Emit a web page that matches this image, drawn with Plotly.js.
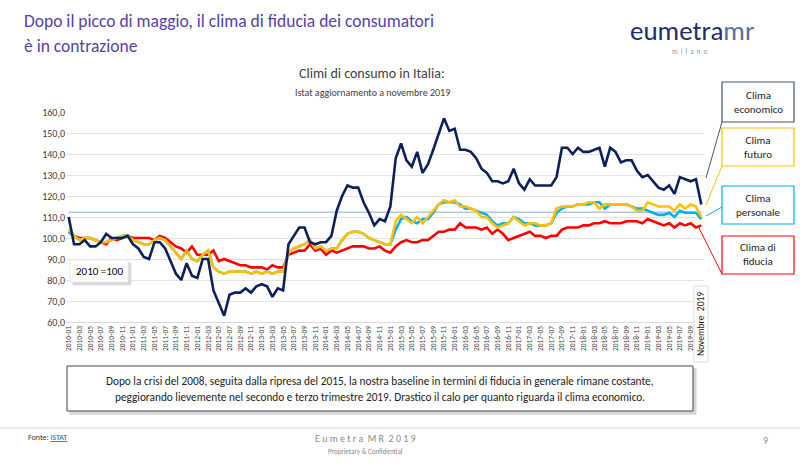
<!DOCTYPE html>
<html><head><meta charset="utf-8">
<script src="https://cdn.plot.ly/plotly-3.0.1.min.js"></script>
<style>body{margin:0;background:#fff}#c{width:800px;height:464px}</style></head>
<body><div id="c"></div>
<script>
const years=[2010,2011,2012,2013,2014,2015,2016,2017,2018,2019];
const months=["01","02","03","04","05","06","07","08","09","10","11","12"];
const economico=[
110,97,97,99,96,96,98,102,100,100,100,101,
97,95,91,90,98,98,95,89,83,80,88,82,
81,90,90,75,69,63,73,74,74,76,74,77,
78,77,72,76,75,97,101,105,105,98,97,98,
98,101,113,120,125,124,124,117,112,106,109,108,
115,138,145,137,134,141,131,135,142,150,157,151,
152,142,142,141,138,133,131,127,127,126,127,133,
126,123,128,125,125,125,125,129,143,143,140,143,
141,141,142,143,134,143,141,136,137,137,132,129,
130,127,124,123,125,121,129,128,127,128,116];
const futuro=[
104,101,99,100,100,99,98,98,99,100,101,101,
99,98,97,97,99,100,99,96,93,90,94,90,
89,92,94,86,84,83,84,84,84,84,83,84,
83,84,83,84,84,93,95,96,97,99,95,96,
94,95,95,99,102,103,103,102,100,99,98,97,
97,108,111,109,107,110,107,110,113,116,118,117,
118,115,115,114,113,110,110,107,105,106,107,110,
108,106,107,107,106,106,107,114,115,115,115,116,
116,117,117,114,116,116,116,116,116,115,113,113,
117,116,115,115,115,113,116,114,116,115,110];
const personale=[
103,101,99,100,100,99,98,98,99,100,101,101,
99,98,97,97,99,100,99,96,93,90,94,90,
89,92,94,86,84,83,84,84,84,84,83,84,
83,84,83,84,84,93,95,96,97,99,95,96,
94,95,95,99,102,103,103,102,100,99,98,97,
97,104,109,110,108,107,109,109,112,116,117,117,
117,116,114,114,113,112,111,108,106,107,107,110,
109,107,107,106,106,106,107,112,114,115,115,116,
116,116,117,117,114,116,116,116,116,115,114,114,
113,112,111,111,112,110,113,112,112,112,109];
const fiducia=[
103,101,100,100,100,99,98,97,100,99,100,101,
100,100,100,100,99,101,100,98,96,95,93,96,
92,92,92,94,89,90,89,88,87,87,86,86,
86,85,87,86,86,92,93,94,94,97,94,95,
92,94,93,94,95,96,96,96,95,95,96,94,
93,96,98,99,98,98,99,99,101,103,103,104,
104,107,105,105,105,104,105,102,104,102,99,100,
101,102,103,101,101,100,101,101,104,105,105,105,
106,106,107,107,108,107,107,107,108,108,108,107,
109,108,107,106,107,105,107,106,107,105,106];
const yTicks=[60,70,80,90,100,110,120,130,140,150,160];
const yTickText=["60,0","70,0","80,0","90,0","100,0","110,0","120,0","130,0","140,0","150,0","160,0"];
const baseline=112.3;

const cats=[];
years.forEach(y=>months.forEach(m=>cats.push(y+"-"+m)));
cats.length=economico.length;
const tickv=cats.filter((c,i)=>i%2===0 && i<cats.length-1);

const W=800,H=464;
const px=x=>x/W, py=y=>1-y/H;
function line(c,w){return {mode:'lines',type:'scatter',x:cats,hoverinfo:'skip',showlegend:false,line:{color:c,width:w}};}
const traces=[
 Object.assign(line('#8EA9DB',1),{y:cats.map(()=>baseline)}),
 Object.assign(line('#FF0000',2.6),{y:fiducia}),
 Object.assign(line('#00B0F0',2.6),{y:personale}),
 Object.assign(line('#FFC000',2.6),{y:futuro}),
 Object.assign(line('#0D1F5C',2.6),{y:economico})
];

const ann=[];
const shapes=[];
const FF='Calibri, Carlito, Lato, sans-serif';
function txt(x,y,t,s,c,o){ann.push(Object.assign({xref:'paper',yref:'paper',x:px(x),y:py(y),text:t,showarrow:false,font:{size:s,color:c,family:FF},xanchor:'left',yanchor:'middle'},o||{}));}
function box(x0,y0,x1,y1,col,w,fill){shapes.push({type:'rect',xref:'paper',yref:'paper',x0:px(x0),x1:px(x1),y0:py(y1),y1:py(y0),line:{color:col,width:w},fillcolor:fill||'rgba(0,0,0,0)'});}
function seg(x0,y0,x1,y1,col){shapes.push({type:'line',xref:'paper',yref:'paper',x0:px(x0),x1:px(x1),y0:py(y0),y1:py(y1),line:{color:col,width:1}});}

txt(22,21,"Dopo il picco di maggio, il clima di fiducia dei consumatori",17.5,'#5442A8');
txt(22,46,"è in contrazione",17.5,'#5442A8');
txt(628,31,"eumetra<span style='color:#5a6aa8'>mr</span>",27,'#1F2D6E');
txt(690,52,"m  i  l  a  n  o",7,'#8a8fa8',{xanchor:'center'});
txt(372,73,"Climi di consumo in Italia:",14,'#404040',{xanchor:'center'});
txt(372,92,"Istat aggiornamento a novembre 2019",10,'#404040',{xanchor:'center'});

box(73,263,131,285,'#dddddd',1,'#d8d8d8');
box(70,260,128,282,'#e6e6e6',1,'#ffffff');
txt(99,271,"2010 =100",11,'#000',{xanchor:'center'});

const bx=[[82,122,'#44546A',"Clima<br>economico"],[128,166,'#FFC000',"Clima<br>futuro"],[186,224,'#00B0F0',"Clima<br>personale"],[236,274,'#FF0000',"Clima di<br>fiducia"]];
bx.forEach(b=>{box(722,b[0],794,b[1],b[2],1.2,'#fff');txt(758,(b[0]+b[1])/2,b[3],11,'#222',{xanchor:'center'});});
seg(706,178,722,122,'#44546A');
seg(706,205,722,166,'#FFC000');
seg(706,216,722,207,'#00B0F0');
seg(698,226,722,274,'#FF0000');

box(694,286,708,362,'#dddddd',1,'#fff');
txt(701,324,"Novembre  2019",9.5,'#222',{xanchor:'center',textangle:-90});

box(70,369,696,414,'#cccccc',1,'#d8d8d8');
box(67,366,693,411,'#444444',1,'#fff');
txt(380,381,"Dopo la crisi del 2008, seguita dalla ripresa del 2015, la nostra baseline in termini di fiducia in generale rimane costante,",11.3,'#222',{xanchor:'center'});
txt(380,397,"peggiorando lievemente nel secondo e terzo trimestre 2019. Drastico il calo per quanto riguarda il clima economico.",11.3,'#222',{xanchor:'center'});

seg(0,428,800,428,'#d9d9d9');
txt(26,437,"Fonte: <span style='color:#0563C1'><u>ISTAT</u></span>",8,'#333');
txt(365,438,"E u m e t r a  M R  2 0 1 9",10,'#8a8a8a',{xanchor:'center'});
txt(365,451,"Proprietary & Confidential",7,'#8a8a8a',{xanchor:'center'});
txt(765,440,"9",10,'#8a8a8a',{xanchor:'center'});

const layout={width:W,height:H,margin:{l:0,r:0,t:0,b:0},paper_bgcolor:'#fff',plot_bgcolor:'#fff',
 font:{family:FF},
 xaxis:{domain:[px(66),px(704)],type:'category',tickvals:tickv,ticktext:tickv,tickangle:-90,tickfont:{size:7.5,color:'#404040'},showgrid:false,zeroline:false,showline:true,linecolor:'#d9d9d9',ticks:'',range:[-0.5,cats.length-0.5]},
 yaxis:{domain:[py(322),py(112)],range:[60,160],tickvals:yTicks,ticktext:yTickText,tickfont:{size:10,color:'#404040'},gridcolor:'#e3e3e3',zeroline:false,ticks:''},
 annotations:ann,shapes:shapes};
Plotly.newPlot('c',traces,layout,{staticPlot:true});
</script></body></html>
